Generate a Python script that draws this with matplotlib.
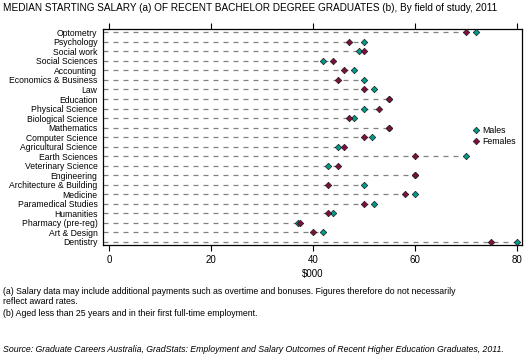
import matplotlib
matplotlib.use("Agg")
import matplotlib.pyplot as plt

plt.rcParams['font.family'] = ['Liberation Sans', 'DejaVu Sans']

fields = ["Optometry", "Psychology", "Social work", "Social Sciences", "Accounting",
          "Economics & Business", "Law", "Education", "Physical Science",
          "Biological Science", "Mathematics", "Computer Science",
          "Agricultural Science", "Earth Sciences", "Veterinary Science",
          "Engineering", "Architecture & Building", "Medicine",
          "Paramedical Studies", "Humanities", "Pharmacy (pre-reg)",
          "Art & Design", "Dentistry"]
males = [72, 50, 49, 42, 48, 50, 52, 55, 50, 48, 55, 51.5, 45, 70, 43, 60, 50, 60,
         52, 44, 37, 42, 80]
females = [70, 47, 50, 44, 46, 45, 50, 55, 53, 47, 55, 50, 46, 60, 45, 60, 43, 58,
           50, 43, 37.5, 40, 75]
xticks = [0, 20, 40, 60, 80]

male_col = "#009a8a"
female_col = "#800f40"

fig = plt.figure(figsize=(5.29, 3.63), dpi=100)
ax = fig.add_axes([103/529, 1 - 245/363, 419/529, 216/363])

ypos = list(range(len(fields)))
xmin = -1.2
ends = [max(m, f) for m, f in zip(males, females)]
ax.hlines(ypos, xmin, ends, colors="#808080", linestyles=(0, (4, 4)), linewidth=0.9, zorder=1)

ax.plot(males, ypos, linestyle="none", marker="D", markersize=3.3, color=male_col,
        markeredgecolor="#1a1a1a", markeredgewidth=0.5, zorder=3, label="Males")
ax.plot(females, ypos, linestyle="none", marker="D", markersize=3.3, color=female_col,
        markeredgecolor="#1a1a1a", markeredgewidth=0.5, zorder=4, label="Females")

ax.set_xlim(xmin, 81)
ax.set_ylim(len(fields) - 1 + 0.33, -0.35)
ax.set_yticks(ypos)
ax.set_yticklabels(fields, fontsize=6.2)
ax.tick_params(axis="y", length=0, pad=4)
ax.set_xticks(xticks)
ax.tick_params(axis="x", direction="out", length=4, width=0.8, labelsize=7,
               top=True, labeltop=False, pad=3)
for s in ax.spines.values():
    s.set_linewidth(0.9)
ax.set_xlabel(r"\$000", fontsize=7, labelpad=3)

leg = ax.legend(loc="upper left", bbox_to_anchor=(472/529, 1 - 126/363),
                bbox_transform=fig.transFigure, frameon=False, fontsize=6.3,
                handlelength=0.8, handletextpad=0.4, labelspacing=0.25,
                borderpad=0, borderaxespad=0)

fig.text(3/529, 1 - 8/363, "MEDIAN STARTING SALARY (a) OF RECENT BACHELOR DEGREE GRADUATES (b), By field of study, 2011",
         fontsize=7.2, va="center", ha="left")
fig.text(3/529, 1 - 292/363, "(a) Salary data may include additional payments such as overtime and bonuses. Figures therefore do not necessarily",
         fontsize=6.3, va="center", ha="left")
fig.text(3/529, 1 - 302/363, "reflect award rates.", fontsize=6.3, va="center", ha="left")
fig.text(3/529, 1 - 314/363, "(b) Aged less than 25 years and in their first full-time employment.",
         fontsize=6.3, va="center", ha="left")
fig.text(3/529, 1 - 349/363, "Source: Graduate Careers Australia, GradStats: Employment and Salary Outcomes of Recent Higher Education Graduates, 2011.",
         fontsize=6.3, va="center", ha="left", style="italic")

fig.savefig("out.png", dpi=100)
